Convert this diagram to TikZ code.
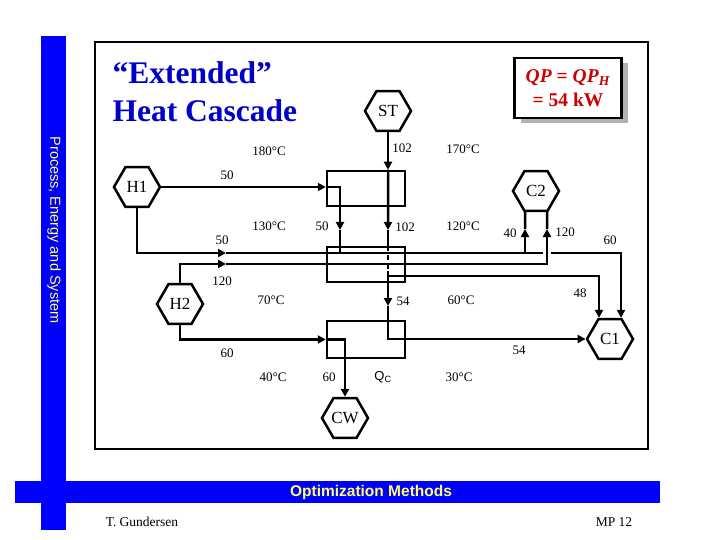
\documentclass[tikz,border=0pt]{standalone}
\usepackage{fontspec}
\setmainfont{Liberation Serif}
\setsansfont{Liberation Sans}
\usetikzlibrary{shapes.geometric,arrows.meta,shadows,calc}
\definecolor{barblue}{RGB}{0,0,255}
\definecolor{titleblue}{RGB}{0,0,200}
\definecolor{qpred}{RGB}{204,0,0}
\definecolor{baryellow}{RGB}{255,255,102}

\begin{document}
\begin{tikzpicture}[x=1pt,y=-1pt,
  hex/.style={draw, regular polygon, regular polygon sides=6, minimum size=46pt, inner sep=0pt, line width=2.5pt, fill=white, font=\fontsize{17}{17}\selectfont},
  ival/.style={draw, line width=2.5pt, minimum width=78pt, minimum height=35pt, inner sep=0pt},
  flow/.style={line width=2.5pt},
  arr/.style={flow, -{Triangle[length=8pt,width=8pt]}},
  lbl/.style={font=\fontsize{13}{13}\selectfont, inner sep=0pt}
]
\fill[white] (0,0) rectangle (720,540);
\useasboundingbox (0,0) rectangle (720,540);
\fill[barblue] (41,36) rectangle (66,530);
\fill[barblue] (15,481) rectangle (660,503);
\node[rotate=-90, text=baryellow, font=\sffamily\fontsize{14.5}{14.5}\selectfont] (side) at (54,230) {Process, Energy and System};
\node[text=baryellow, font=\sffamily\bfseries\fontsize{15.5}{15.5}\selectfont] (foot) at (371,492) {Optimization Methods};
\node[font=\fontsize{13.5}{13.5}\selectfont] (author) at (142,522) {T. Gundersen};
\node[font=\fontsize{13.5}{13.5}\selectfont] (page) at (614,522) {MP 12};
\draw[line width=2.5pt] (95,42) rectangle (648,449);

\node[anchor=west, align=left, text=titleblue, font=\bfseries\fontsize{31.5}{38}\selectfont] (title) at (109,92) {“Extended”\\Heat Cascade};
\node[draw, line width=2.5pt, fill=white, minimum width=107pt, minimum height=60pt, align=center, text=qpred,
  font=\bfseries\fontsize{19.5}{24}\selectfont,
  drop shadow={shadow xshift=6pt, shadow yshift=-5pt, fill=black!30, opacity=1}] (qp) at (568,88)
  {\textit{QP} = \textit{QP}\textsubscript{\textit{H}}\\= 54 kW};

\node[hex] (ST) at (388,111) {ST};
\node[hex] (H1) at (137,187) {H1};
\node[hex] (C2) at (536,191) {C2};
\node[hex] (H2) at (180,304) {H2};
\node[hex] (C1) at (610,339) {C1};
\node[hex] (CW) at (345,418) {CW};
\node[ival] (box1) at (366,188.5) {};
\node[ival] (box2) at (366,264.5) {};
\node[ival, minimum height=37pt] (box3) at (366,339.5) {};

\coordinate (C1l) at ($(C1.north)+(-11,0)$);
\coordinate (C1r) at ($(C1.north)+(11,0)$);
\coordinate (C2l) at ($(C2.south)+(-11,0)$);
\coordinate (C2r) at ($(C2.south)+(11,0)$);
\coordinate (st2) at (388,230);
\coordinate (st3) at (388,271);
\coordinate (st4) at (388,306);
\coordinate (st5) at (388,276);
\coordinate (b50) at (340,230);
\coordinate (m50) at (226,253);
\coordinate (m120) at (226,264);
\coordinate (j40) at (525,253);
\coordinate (g1) at (543,253);
\coordinate (g2) at (551,253);
\coordinate (c2a) at (525,229);
\coordinate (c2b) at (547,229);

\draw[arr] (ST.south) -- (ST.south |- box1.north);
\draw[arr] (ST.south |- box1.north) -- (st2);
\draw[flow] (st2) -- (st2 |- box2.north);
\draw[flow, dash pattern=on 5pt off 4pt] (st2 |- box2.north) -- (st3);
\draw[arr] (st3) -- (st4);
\draw[arr] (st4) |- (C1.west);
\draw[arr] (st5) -| (C1l);

\draw[arr] (H1.east) -- (H1.east -| box1.west);
\draw[arr] (H1.east -| box1.west) -| (b50);
\draw[flow] (b50) -- (b50 |- m50);
\draw[arr] (H1.south) |- (m50);
\draw[flow] (m50) -- (g1);
\draw[arr] (j40) -- (c2a);
\draw[flow] (c2a) -- (C2l);
\draw[arr] (g2) -| (C1r);

\draw[arr] (H2.north) |- (m120);
\draw[arr] (m120) -| (c2b);
\draw[flow] (c2b) -- (C2r);
\draw[arr] (H2.south) |- (box3.west);
\draw[arr] (box3.west) -| (CW.north);

\node[lbl] (t180) at (269,151) {180°C};
\node[lbl] (t170) at (463,149) {170°C};
\node[lbl] (t130) at (269,226) {130°C};
\node[lbl] (t120) at (463,226) {120°C};
\node[lbl] (t70) at (271,300) {70°C};
\node[lbl] (t60) at (461,300) {60°C};
\node[lbl] (t40) at (273,377) {40°C};
\node[lbl] (t30) at (459,377) {30°C};
\node[lbl] (qst) at (402,148) {102};
\node[lbl] (qst2) at (405,227) {102};
\node[lbl] (qst3) at (403,301) {54};
\node[lbl, font=\sffamily\fontsize{13}{13}\selectfont] (qc) at (383,377) {Q\textsubscript{C}};
\node[lbl] (qh1a) at (227,175) {50};
\node[lbl] (qh1b) at (322,226) {50};
\node[lbl] (qh1c) at (222,240) {50};
\node[lbl] (qh2a) at (222,281) {120};
\node[lbl] (qh2b) at (227,353) {60};
\node[lbl] (qcw) at (329,377) {60};
\node[lbl] (qc2a) at (510,233) {40};
\node[lbl] (qc2b) at (565,232) {120};
\node[lbl] (qc1a) at (610,240) {60};
\node[lbl] (qc1b) at (580,293) {48};
\node[lbl] (qc1c) at (519,350) {54};
\end{tikzpicture}
\end{document}
